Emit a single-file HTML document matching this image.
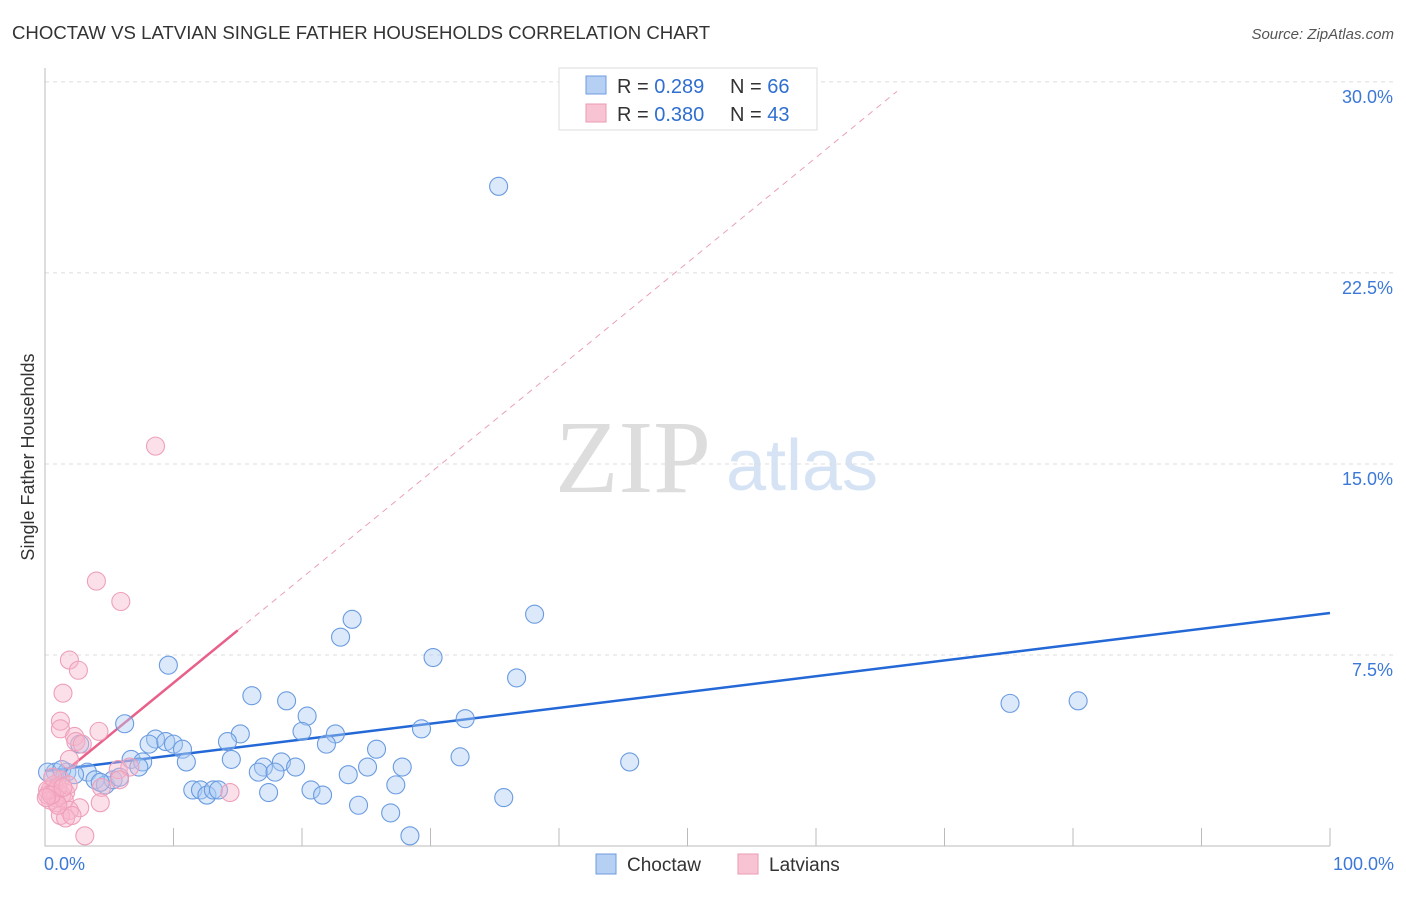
<!DOCTYPE html>
<html><head><meta charset="utf-8"><style>
body{margin:0;background:#fff;font-family:"Liberation Sans",sans-serif}
#wrap{position:relative;width:1406px;height:892px}
</style></head><body>
<div id="wrap">
<svg id="svg" width="1406" height="892" xmlns="http://www.w3.org/2000/svg">
<text x="12" y="39" font-size="18.6" fill="#333">CHOCTAW VS LATVIAN SINGLE FATHER HOUSEHOLDS CORRELATION CHART</text>
<text x="1394" y="39" font-size="15" fill="#555" text-anchor="end" font-style="italic">Source: ZipAtlas.com</text>
<text x="34" y="457" font-size="18" fill="#333" text-anchor="middle" transform="rotate(-90 34 457)">Single Father Households</text>
<g><text x="633" y="492" font-size="104" fill="#ddd" font-family="Liberation Serif,serif" text-anchor="middle">ZIP</text><text x="802" y="490" font-size="72" fill="#d5e3f5" text-anchor="middle">atlas</text></g>
<g id="grid"></g><g id="axes"></g><g id="trend"></g><g id="pts"></g>
<g>
<rect x="559" y="68" width="258" height="62" fill="#fff" stroke="#ddd"/>
<rect x="586" y="76" width="20" height="18" fill="#b6d0f4" stroke="#6d9be0"/>
<rect x="586" y="104" width="20" height="18" fill="#f8c4d4" stroke="#eb9ab4"/>
<text x="617" y="93" font-size="20" fill="#333">R = <tspan fill="#2f6fd0">0.289</tspan></text>
<text x="730" y="93" font-size="20" fill="#333">N = <tspan fill="#2f6fd0">66</tspan></text>
<text x="617" y="121" font-size="20" fill="#333">R = <tspan fill="#2f6fd0">0.380</tspan></text>
<text x="730" y="121" font-size="20" fill="#333">N = <tspan fill="#2f6fd0">43</tspan></text>
</g>
<g>
<rect x="596" y="854" width="20" height="20" fill="#b6d0f4" stroke="#6d9be0"/>
<text x="627" y="871" font-size="19" fill="#333">Choctaw</text>
<rect x="738" y="854" width="20" height="20" fill="#f8c4d4" stroke="#eb9ab4"/>
<text x="769" y="871" font-size="19" fill="#333">Latvians</text>
</g>
</svg></div>
<script>
const yTicks=[7.5,15,22.5,30];
const yTickLabels=["7.5%","15.0%","22.5%","30.0%"];
const xTickLabels=["0.0%","100.0%"];
const blueX=[35.3,38.1,23.9,23.0,30.2,9.6,36.7,16.1,18.8,75.1,80.4,6.2,20.4,32.7,29.3,20.0,15.2,22.6,8.6,8.1,9.4,10.0,14.2,10.7,2.7,25.8,21.9,32.3,45.5,6.7,7.6,7.3,11.0,14.5,18.4,19.5,17.0,16.6,17.9,25.1,27.8,23.6,3.3,0.8,1.7,0.2,3.9,4.7,5.3,4.3,11.5,12.1,12.6,13.1,13.5,17.4,20.7,21.6,27.3,35.7,24.4,26.9,28.4,1.3,2.3,5.8];
const blueY=[25.9,9.1,8.9,8.2,7.4,7.1,6.6,5.9,5.7,5.6,5.7,4.8,5.1,5.0,4.6,4.5,4.4,4.4,4.2,4.0,4.1,4.0,4.1,3.8,4.0,3.8,4.0,3.5,3.3,3.4,3.3,3.1,3.3,3.4,3.3,3.1,3.1,2.9,2.9,3.1,3.1,2.8,2.9,2.9,2.9,2.9,2.6,2.4,2.6,2.5,2.2,2.2,2.0,2.2,2.2,2.1,2.2,2.0,2.4,1.9,1.6,1.3,0.4,3.0,2.8,2.7];
const pinkX=[8.6,4.0,5.9,1.9,2.6,1.4,1.2,1.2,4.2,2.3,2.4,2.9,1.9,5.7,6.6,5.8,4.4,1.2,0.7,0.4,0.2,0.8,1.3,1.6,0.4,0.9,1.5,0.2,1.0,4.3,2.7,1.9,1.2,1.6,2.1,3.1,14.4,0.6,1.8,1.0,0.5,0.1,1.4];
const pinkY=[15.7,10.4,9.6,7.3,6.9,6.0,4.9,4.6,4.5,4.3,4.1,4.0,3.4,3.0,3.1,2.6,2.3,2.6,2.4,2.2,2.0,1.9,2.0,2.1,1.8,1.7,1.8,2.2,2.3,1.7,1.5,1.4,1.2,1.1,1.2,0.4,2.1,2.7,2.4,1.6,2.0,1.9,2.3];
const blueTrend=[2.94,9.15];
const pinkTrend=[2.28,0.4125];
const X=v=>45+v*12.85, Y=v=>846-v*25.47;
const NS="http://www.w3.org/2000/svg";
function mk(t,a,p){const e=document.createElementNS(NS,t);for(const k in a)e.setAttribute(k,a[k]);p.appendChild(e);return e;}
const grid=document.getElementById('grid'),axes=document.getElementById('axes'),tr=document.getElementById('trend'),pts=document.getElementById('pts');
yTicks.forEach((t,i)=>{
 const l=mk('line',{x1:45,x2:1393,y1:Y(t),y2:Y(t),stroke:'#ddd','stroke-dasharray':'4,4'},grid);
 
 
 const tx=mk('text',{x:1393,y:Y(t)+21,'font-size':18,fill:'#3b78d8','text-anchor':'end'},grid);
 tx.textContent=yTickLabels[i];
 
 
});
const ax=mk('path',{d:`M45,68 V846 H1330`,stroke:'#bbb',fill:'none'},axes);


for(let i=1;i<=10;i++){const t=mk('line',{x1:X(i*10),x2:X(i*10),y1:828,y2:846,stroke:'#bbb'},axes);
 
 }
[[0,'start',44],[100,'end',1394]].forEach((d,i)=>{const t=mk('text',{x:d[2],y:870,'font-size':18,fill:'#3b78d8','text-anchor':d[1]},axes);t.textContent=xTickLabels[i];
 
 });
const bl=mk('line',{x1:X(0),y1:Y(blueTrend[0]),x2:X(100),y2:Y(blueTrend[1]),stroke:'#2368d6','stroke-width':2.5},tr);


const pf=x=>pinkTrend[0]+pinkTrend[1]*x;
const pd=mk('line',{x1:X(15),y1:Y(pf(15)),x2:X(66.3),y2:Y(pf(66.3)),stroke:'#eaa0b8','stroke-width':1,'stroke-dasharray':'6,5'},tr);


const ps=mk('line',{x1:X(0),y1:Y(pf(0)),x2:X(15),y2:Y(pf(15)),stroke:'#e8608a','stroke-width':2.5},tr);


blueX.forEach((x,i)=>{const c=mk('circle',{cx:X(x),cy:Y(blueY[i]),r:9,fill:'rgba(170,202,242,0.42)',stroke:'#6a9be0','stroke-width':1.1},pts);
 
 });
pinkX.forEach((x,i)=>{const c=mk('circle',{cx:X(x),cy:Y(pinkY[i]),r:9,fill:'rgba(248,180,202,0.42)',stroke:'#ee9fb9','stroke-width':1.1},pts);
 
 });
</script>
</body></html>
